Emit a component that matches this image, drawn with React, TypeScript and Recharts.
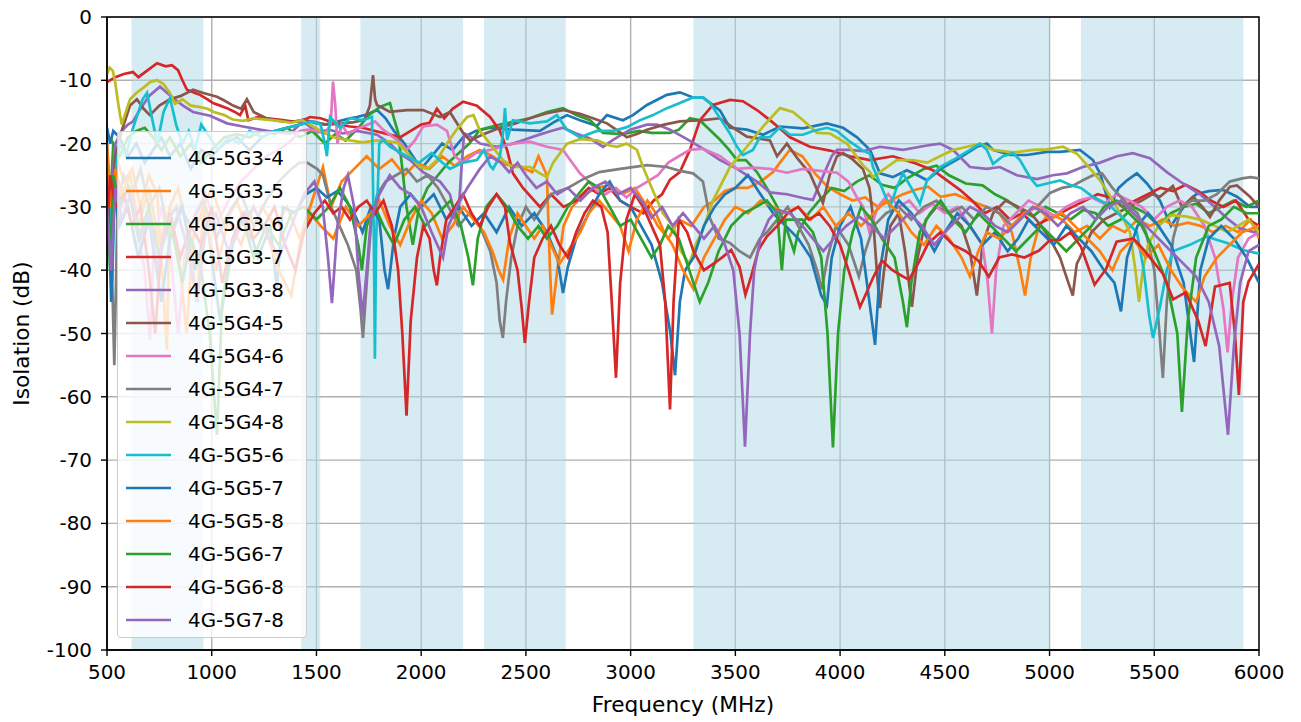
import React from 'react'
import {
  LineChart,
  Line,
  XAxis,
  YAxis,
  CartesianGrid,
  ReferenceArea,
  Legend,
  Label,
} from 'recharts'

type Pt = [number, number]

// frequency ticks / isolation ticks
const xTicks = [500, 1000, 1500, 2000, 2500, 3000, 3500, 4000, 4500, 5000, 5500, 6000]
const yTicks = [0, -10, -20, -30, -40, -50, -60, -70, -80, -90, -100]

// operating bands (MHz)
const bands: Pt[] = [
  [617, 960],
  [1427, 1518],
  [1710, 2200],
  [2300, 2690],
  [3300, 5000],
  [5150, 5925],
]

// [MHz, dB]
const g3_4: Pt[] = [
  [500, -17.5], [515, -20], [530, -18], [560, -19], [600, -22], [640, -20], [680, -23], [720, -21], [760, -19],
  [800, -22], [850, -20], [900, -24], [950, -21], [1000, -22], [1060, -20], [1120, -19], [1180, -21], [1240, -19],
  [1300, -18], [1360, -17.5], [1420, -17], [1480, -16.5], [1540, -17], [1600, -16.5], [1660, -16], [1694, -15.8],
  [1740, -15.4], [1790, -14.7], [1830, -16], [1870, -18], [1920, -20], [1960, -22], [2000, -24], [2050, -22],
  [2100, -20], [2150, -21], [2200, -19], [2260, -18], [2329, -17.5], [2438, -17.8], [2567, -18], [2640, -16.5],
  [2696, -15.5], [2758, -16.3], [2839, -17.2], [2887, -15.5], [2963, -16.3], [3011, -15.5], [3078, -13.9],
  [3173, -12.3], [3235, -11.9], [3298, -12.7], [3345, -12.7], [3427, -14.8], [3474, -17.5], [3555, -17.8],
  [3632, -18.6], [3713, -17.3], [3823, -17.6], [3937, -16.8], [4014, -17.5], [4081, -19], [4143, -21],
  [4190, -24.7], [4252, -25.3], [4319, -24.2], [4370, -25], [4415, -25.8], [4480, -24], [4560, -22.5],
  [4653, -20.5], [4701, -20], [4730, -21], [4811, -21.8], [4892, -21.8], [4988, -21.3], [5050, -21.3],
  [5145, -21], [5207, -22.6], [5241, -24.7], [5288, -30], [5330, -27], [5370, -25.8], [5417, -24.7],
  [5465, -26.3], [5527, -29], [5580, -33], [5640, -30], [5700, -28], [5760, -27.5], [5828, -27.3],
  [5895, -28.4], [5957, -30], [6000, -30],
]

const g3_5: Pt[] = [
  [500, -25], [520, -35], [545, -22], [580, -26], [620, -24], [660, -30], [700, -25], [740, -28], [786, -52.6],
  [800, -30], [840, -27], [890, -35], [930, -45], [960, -30], [1000, -27], [1060, -33], [1120, -29], [1180, -35],
  [1240, -30], [1300, -33], [1360, -30], [1420, -35], [1470, -30], [1531, -23.7], [1570, -30], [1620, -26],
  [1680, -24], [1740, -22], [1800, -24], [1860, -22.5], [1920, -25], [1980, -23], [2040, -24], [2100, -22],
  [2160, -23.5], [2220, -22], [2280, -21], [2330, -21.8], [2400, -23.3], [2470, -23.6], [2530, -24.5],
  [2560, -22], [2600, -25], [2615, -40], [2625, -47], [2650, -40], [2680, -33], [2720, -30], [2780, -28],
  [2840, -27], [2900, -26.5], [2960, -28], [3020, -27], [3080, -30], [3130, -33], [3180, -35], [3230, -32],
  [3290, -33], [3350, -30], [3400, -29], [3450, -27.5], [3500, -27], [3560, -27], [3620, -26], [3680, -24.5],
  [3713, -23], [3760, -21], [3820, -22], [3880, -24.7], [3940, -26.8], [4000, -28], [4060, -29], [4120, -28.5],
  [4180, -30], [4240, -29], [4300, -28], [4360, -27.3], [4420, -26.8], [4480, -28.4], [4550, -28], [4620, -29],
  [4700, -30], [4760, -31], [4820, -34], [4860, -40], [4883, -44], [4910, -38], [4950, -33], [5000, -31],
  [5060, -32], [5120, -34], [5180, -33], [5240, -35], [5300, -33], [5360, -34], [5420, -32], [5480, -33],
  [5540, -32], [5600, -33], [5660, -32.5], [5720, -33], [5780, -34], [5840, -33], [5900, -34], [5960, -32],
  [6000, -35],
]

const g3_6: Pt[] = [
  [500, -25], [515, -30], [530, -20], [560, -22], [600, -19], [640, -18], [680, -17.5], [720, -19], [760, -21],
  [800, -19], [850, -22], [900, -20], [950, -23], [1000, -21], [1060, -19], [1120, -18.5], [1180, -19],
  [1240, -18], [1300, -18.5], [1360, -17.5], [1420, -19], [1480, -18], [1540, -20], [1590, -18.5], [1640, -19.5],
  [1700, -17.5], [1750, -15.5], [1803, -14.2], [1851, -13.6], [1870, -16], [1890, -18.3], [1910, -24],
  [1930, -30], [1960, -36], [1990, -30], [2030, -27], [2080, -25], [2130, -23], [2180, -21.5], [2230, -20],
  [2281, -17.8], [2376, -17], [2450, -16.5], [2519, -16], [2600, -15], [2677, -14.4], [2740, -15.5],
  [2806, -16.3], [2868, -18.3], [2960, -18.5], [3040, -18], [3100, -18.3], [3188, -18.3], [3230, -17.8],
  [3283, -16], [3330, -16.3], [3427, -19.4], [3470, -21], [3508, -22.6], [3550, -22.6], [3603, -24.5],
  [3650, -27], [3700, -30], [3740, -33], [3780, -37], [3800, -34], [3850, -31], [3900, -29], [3960, -27],
  [4020, -27.5], [4080, -26], [4140, -25], [4200, -26.5], [4260, -27], [4320, -25.5], [4400, -24], [4460, -23.5],
  [4520, -25], [4600, -26.3], [4680, -26.6], [4740, -28], [4800, -29], [4860, -30.5], [4920, -31.5],
  [4980, -30], [5040, -31], [5100, -32], [5160, -30.5], [5220, -31], [5280, -33], [5340, -32], [5400, -30],
  [5460, -31], [5520, -33], [5580, -31], [5640, -30], [5700, -29.5], [5760, -31], [5820, -30], [5880, -29],
  [5940, -30], [6000, -29],
]

const g3_7: Pt[] = [
  [500, -10.3], [540, -9.5], [580, -9], [624, -8.7], [650, -9.5], [690, -8.5], [739, -7.3], [780, -7.8],
  [810, -7.6], [839, -8.4], [860, -10], [882, -11.5], [920, -12], [944, -12.3], [980, -13], [1006, -13.6],
  [1040, -14], [1073, -14.4], [1110, -15], [1135, -15.5], [1160, -14], [1175, -16.3], [1220, -15.8],
  [1264, -16], [1320, -16.2], [1380, -16.5], [1421, -16.5], [1470, -15.8], [1520, -16], [1565, -16.5],
  [1610, -17], [1660, -17.3], [1720, -17.5], [1780, -18], [1840, -18.5], [1900, -19], [1950, -18], [2000, -17],
  [2040, -16.7], [2075, -14.5], [2110, -16], [2150, -14.5], [2200, -13.4], [2266, -14], [2329, -15.8],
  [2376, -18], [2410, -21], [2438, -24.7], [2486, -27], [2567, -30], [2620, -28], [2680, -30], [2740, -29],
  [2800, -27], [2850, -28], [2900, -27], [2950, -29], [3000, -30], [3060, -31], [3110, -29], [3150, -28],
  [3188, -25.7], [3235, -24.5], [3283, -21], [3331, -16.3], [3393, -13.9], [3474, -13.1], [3536, -13.3],
  [3603, -14.7], [3665, -16.3], [3713, -17.6], [3761, -19], [3856, -20.5], [3952, -21.1], [4047, -22],
  [4143, -22.6], [4252, -22], [4350, -23], [4443, -24.2], [4510, -25.8], [4572, -27.3], [4630, -29],
  [4690, -31], [4750, -30], [4810, -32], [4870, -31], [4930, -33], [4990, -32], [5050, -31], [5110, -30],
  [5170, -29], [5230, -28], [5290, -28.5], [5350, -30], [5410, -29], [5470, -28], [5530, -27], [5590, -27.5],
  [5650, -26.5], [5710, -27.5], [5770, -29], [5830, -30], [5890, -29], [5950, -32], [6000, -33],
]

const g3_8: Pt[] = [
  [500, -22], [520, -28], [540, -20], [570, -18], [600, -17], [624, -16.5], [658, -14.6], [700, -12.5],
  [753, -11], [815, -12.8], [863, -14], [911, -15], [992, -15.6], [1073, -16.8], [1149, -17.3], [1264, -18],
  [1374, -18.4], [1436, -16.5], [1503, -18.2], [1560, -17.8], [1627, -18.4], [1694, -18], [1789, -18.6],
  [1851, -20], [1899, -21.6], [1947, -22.6], [2009, -24.5], [2090, -26], [2137, -28], [2160, -31], [2175, -33],
  [2190, -25], [2205, -18.4], [2240, -19], [2281, -20], [2360, -20.5], [2438, -20], [2500, -19.3],
  [2553, -18.7], [2620, -18], [2677, -17.5], [2740, -18.4], [2806, -19.2], [2868, -20.5], [2916, -19.4],
  [2997, -17.8], [3078, -17], [3126, -17], [3188, -17.8], [3269, -19.3], [3345, -20.8], [3427, -22.6],
  [3508, -24], [3603, -26], [3665, -27.7], [3746, -28], [3823, -28.6], [3870, -28.9], [3920, -25], [3960, -22],
  [3985, -21], [4047, -21], [4109, -21.2], [4190, -20.5], [4300, -21], [4415, -20.3], [4477, -20], [4539, -21],
  [4620, -23.7], [4701, -24], [4763, -23.7], [4844, -25], [4940, -25.6], [5016, -25], [5083, -24.7],
  [5159, -23.7], [5241, -23], [5322, -22], [5398, -21.5], [5479, -22.3], [5560, -24.5], [5637, -26.3],
  [5718, -28], [5799, -30.3], [5847, -31.8], [5909, -33.4], [6000, -34.2],
]

const g4_5: Pt[] = [
  [500, -25], [520, -32], [540, -22], [570, -18], [610, -14], [643, -13], [675, -14.5], [705, -15.5], [750, -14],
  [800, -13], [850, -12.5], [911, -11.5], [960, -12], [1025, -12.6], [1060, -13.2], [1102, -14], [1140, -14.5],
  [1168, -13], [1200, -15], [1260, -16], [1320, -16.4], [1380, -16.6], [1440, -16.2], [1500, -16.8], [1560, -17],
  [1620, -16.8], [1680, -16.6], [1730, -16.2], [1755, -14], [1770, -9.2], [1780, -13], [1789, -13.9],
  [1851, -15], [1932, -14.7], [2009, -14.7], [2090, -15.8], [2137, -15], [2200, -18.3], [2233, -19.5],
  [2300, -18.5], [2376, -17.5], [2450, -16.8], [2519, -16], [2600, -15.2], [2677, -14.7], [2758, -15.3],
  [2820, -16], [2887, -16.8], [2940, -18], [2982, -19], [3030, -18.5], [3078, -17.8], [3160, -17], [3235, -16.5],
  [3345, -16.3], [3427, -16], [3490, -17.5], [3555, -18.9], [3665, -19.5], [3699, -22], [3746, -20],
  [3800, -22.5], [3856, -24.7], [3918, -29.4], [3950, -25], [3985, -22], [4014, -21.5], [4060, -22.5],
  [4109, -24], [4140, -27], [4157, -31.6], [4175, -40], [4190, -46], [4210, -40], [4240, -33], [4280, -31],
  [4310, -37], [4343, -45.8], [4370, -38], [4410, -32], [4460, -30], [4520, -31], [4580, -33], [4620, -37],
  [4653, -44], [4680, -36], [4730, -31], [4790, -29], [4850, -30], [4910, -31], [4960, -33], [5002, -35],
  [5050, -38], [5090, -42], [5111, -44], [5130, -39], [5145, -38], [5200, -34], [5260, -32], [5320, -31],
  [5380, -30], [5440, -29], [5490, -28], [5527, -28.4], [5589, -26.7], [5632, -30], [5685, -28.4],
  [5730, -30], [5766, -31.6], [5810, -29], [5861, -26.8], [5895, -26.6], [5957, -28.4], [6000, -30],
]

const g4_6: Pt[] = [
  [500, -28], [520, -38], [540, -25], [570, -30], [600, -27], [640, -33], [680, -40], [705, -51], [725, -35],
  [760, -30], [800, -36], [840, -50], [870, -38], [920, -31], [970, -28], [1020, -33], [1080, -29], [1140, -26],
  [1200, -24], [1260, -22], [1320, -21], [1380, -19.5], [1420, -18], [1460, -17.8], [1500, -18], [1540, -18.4],
  [1568, -17], [1579, -10.2], [1590, -14], [1600, -20], [1620, -17], [1650, -18.5], [1690, -17.7],
  [1730, -17.2], [1760, -16.8], [1780, -16.5], [1818, -17.8], [1884, -19.4], [1930, -21], [1970, -19.5],
  [2009, -17.3], [2075, -17], [2123, -18], [2160, -22], [2200, -23], [2260, -21.5], [2329, -21], [2438, -20],
  [2519, -19.7], [2600, -20.5], [2677, -21], [2720, -23], [2758, -24.7], [2800, -26], [2840, -27.5],
  [2880, -28], [2930, -27], [2980, -28.5], [3030, -27], [3080, -26], [3130, -25], [3180, -23], [3230, -22],
  [3283, -21], [3345, -20.8], [3427, -22], [3508, -24], [3584, -23.8], [3665, -24], [3746, -24.6], [3823, -24],
  [3904, -24.3], [3985, -24.6], [4040, -26], [4080, -28.5], [4110, -30], [4140, -34], [4180, -30], [4230, -28],
  [4280, -30], [4330, -29], [4380, -31], [4440, -29.5], [4500, -31], [4560, -30], [4620, -33], [4680, -36],
  [4705, -42], [4725, -50], [4745, -40], [4780, -33], [4840, -31], [4900, -29], [4960, -30], [5020, -31.5],
  [5080, -30], [5140, -29], [5200, -28.5], [5260, -29.5], [5320, -28], [5380, -29], [5440, -30], [5500, -32],
  [5560, -30], [5620, -29], [5680, -30], [5740, -33], [5790, -38], [5830, -46], [5850, -53], [5870, -45],
  [5900, -38], [5950, -35], [6000, -34],
]

const g4_7: Pt[] = [
  [500, -22], [520, -35], [535, -55], [550, -30], [580, -25], [620, -28], [660, -24], [700, -30], [750, -27],
  [800, -35], [850, -30], [900, -33], [960, -29], [1020, -35], [1080, -31], [1140, -28], [1200, -33],
  [1260, -29], [1320, -26], [1380, -24], [1420, -23], [1455, -23], [1503, -24], [1531, -25], [1570, -30],
  [1610, -33], [1650, -36], [1690, -40], [1710, -46], [1722, -50.7], [1740, -42], [1760, -33], [1790, -28],
  [1830, -26], [1880, -25], [1930, -24], [1980, -26], [2030, -25], [2080, -27], [2130, -30], [2180, -33],
  [2230, -31], [2280, -33], [2330, -37], [2360, -42], [2375, -48], [2390, -50.7], [2405, -45], [2430, -38],
  [2460, -33], [2500, -30], [2540, -32], [2580, -30], [2620, -28], [2660, -27.5], [2700, -27], [2780, -25.5],
  [2850, -24.5], [2950, -24], [3078, -23.4], [3173, -23.7], [3235, -24.3], [3298, -24.7], [3345, -26],
  [3379, -31.8], [3420, -35], [3474, -35.7], [3520, -37], [3570, -38], [3617, -35], [3651, -34], [3700, -32],
  [3750, -30], [3800, -33], [3850, -36], [3890, -40], [3913, -43], [3940, -38], [3980, -33], [4040, -36],
  [4090, -41], [4120, -37], [4160, -33], [4220, -31], [4280, -30], [4340, -32], [4400, -30], [4460, -29],
  [4520, -31], [4580, -30], [4640, -32], [4700, -30], [4760, -31], [4820, -33], [4880, -31], [4940, -30],
  [5002, -27.8], [5060, -27], [5110, -26.7], [5159, -25.8], [5207, -25], [5250, -24.7], [5300, -27],
  [5370, -29.5], [5420, -31], [5460, -34], [5500, -40], [5525, -50], [5541, -57], [5560, -45], [5590, -35],
  [5630, -30], [5680, -29], [5740, -29], [5799, -28], [5860, -26], [5920, -25.5], [5960, -25.3], [6000, -25.5],
]

const g4_8: Pt[] = [
  [500, -9], [513, -8], [528, -8.5], [540, -10.5], [555, -14], [570, -17], [590, -15], [610, -13], [640, -12],
  [680, -11], [710, -10.2], [740, -10], [770, -10.6], [800, -12], [825, -13.7], [860, -13], [900, -14],
  [940, -14.2], [980, -14.5], [1010, -15], [1060, -15.5], [1100, -16.2], [1150, -16.4], [1200, -16],
  [1260, -16.2], [1320, -16.4], [1380, -16.7], [1430, -16.3], [1470, -17], [1520, -18], [1580, -19],
  [1660, -19.5], [1720, -19.8], [1789, -19.5], [1884, -19.8], [1940, -21.7], [1994, -23.7], [2030, -24],
  [2075, -22.6], [2123, -20], [2171, -17.7], [2219, -15.8], [2250, -15.5], [2281, -18], [2329, -20],
  [2390, -22.6], [2438, -23.7], [2520, -23.7], [2567, -24.7], [2600, -25.3], [2630, -23], [2696, -20],
  [2758, -19.3], [2840, -19.5], [2900, -20.3], [2935, -20.5], [2980, -20], [3030, -21], [3059, -23.7],
  [3107, -27.5], [3154, -31], [3202, -33], [3240, -37], [3280, -39], [3310, -36], [3345, -33.6], [3393, -29],
  [3474, -23.7], [3555, -20.5], [3632, -17.3], [3713, -14.4], [3775, -15], [3823, -16.3], [3890, -18.3],
  [3952, -18.4], [4033, -20], [4109, -23.4], [4143, -24.5], [4157, -25.3], [4224, -23.7], [4271, -22.6],
  [4348, -22.6], [4415, -23], [4477, -22], [4539, -21], [4606, -20.5], [4668, -20], [4730, -21], [4825, -21.4],
  [4921, -21], [4988, -20.9], [5064, -20.5], [5131, -21.6], [5179, -23.4], [5241, -25.8], [5303, -29],
  [5350, -31.8], [5384, -34], [5410, -40], [5427, -45], [5445, -40], [5470, -36], [5520, -33], [5580, -31.3],
  [5650, -31.5], [5720, -32], [5790, -33], [5850, -34], [5900, -33], [5950, -32], [6000, -34],
]

const g5_6: Pt[] = [
  [500, -20], [512, -30], [525, -42], [538, -25], [560, -20], [590, -22], [620, -18], [650, -15], [670, -13],
  [691, -12], [715, -16], [740, -20], [770, -15], [801, -12.8], [830, -17], [860, -20], [890, -18], [920, -21],
  [950, -17], [990, -19], [1030, -21], [1080, -19], [1130, -20], [1180, -18], [1240, -19], [1300, -18],
  [1360, -17.5], [1420, -17], [1480, -16.5], [1520, -17], [1540, -20], [1550, -22], [1565, -15.8],
  [1612, -17.5], [1660, -16], [1722, -16.3], [1765, -15.8], [1774, -35], [1779, -54], [1785, -35], [1800, -20],
  [1818, -19.4], [1851, -20.5], [1932, -22], [1990, -23], [2050, -21.5], [2100, -23], [2137, -24], [2200, -23],
  [2266, -22.6], [2300, -21], [2329, -23.5], [2343, -24], [2376, -22], [2392, -18], [2400, -14.4], [2410, -19.4],
  [2438, -16.3], [2519, -16.8], [2600, -16.5], [2648, -15.5], [2696, -17.8], [2758, -19], [2839, -18],
  [2916, -18], [2982, -17.4], [3045, -16.3], [3107, -15.5], [3173, -14.4], [3235, -13.6], [3298, -12.7],
  [3345, -12.7], [3379, -13.6], [3427, -16], [3474, -18.4], [3508, -20.5], [3536, -21.8], [3584, -21],
  [3617, -19], [3665, -19], [3713, -17.4], [3761, -18.6], [3823, -18.6], [3871, -18], [3937, -17.5],
  [3985, -18], [4047, -19.7], [4109, -21.1], [4143, -21.6], [4157, -23.7], [4200, -27], [4238, -30],
  [4270, -27], [4300, -24.7], [4340, -27], [4381, -29.5], [4415, -25.8], [4477, -23.7], [4539, -22.6],
  [4620, -21], [4668, -20], [4701, -21], [4730, -23.2], [4778, -22], [4825, -21.5], [4859, -22.6],
  [4906, -25.3], [4940, -26.7], [4988, -26.3], [5050, -25.8], [5097, -26.5], [5150, -27], [5207, -28.4],
  [5288, -29.8], [5370, -32.4], [5417, -34], [5450, -40], [5475, -47], [5494, -50.7], [5527, -45.8],
  [5560, -40], [5589, -37], [5670, -36], [5751, -34.7], [5847, -35.7], [5923, -36.8], [6000, -37.4],
]

const g5_7: Pt[] = [
  [500, -22], [520, -45], [535, -28], [560, -33], [600, -30], [650, -38], [700, -32], [760, -45], [800, -35],
  [860, -30], [920, -40], [980, -33], [1040, -48], [1100, -36], [1160, -31], [1220, -38], [1280, -33],
  [1311, -43], [1340, -30], [1400, -31], [1450, -28], [1500, -27], [1550, -28.5], [1600, -27.5], [1640, -29],
  [1680, -31], [1720, -34], [1760, -30], [1800, -32], [1825, -40], [1842, -43], [1870, -35], [1900, -30],
  [1950, -28], [2000, -30], [2060, -28], [2120, -32], [2180, -30], [2240, -33], [2300, -31], [2360, -34],
  [2420, -30], [2480, -33], [2540, -31], [2600, -34], [2650, -38], [2677, -43.6], [2700, -39.5], [2740, -35],
  [2800, -31], [2850, -28], [2900, -26], [2950, -29], [3000, -30], [3050, -33], [3100, -36], [3150, -42],
  [3190, -50], [3212, -56.6], [3235, -45], [3260, -40], [3300, -38], [3350, -33], [3400, -30], [3450, -28],
  [3500, -27], [3560, -25], [3620, -28], [3680, -31], [3740, -33], [3800, -35], [3860, -38], [3910, -44],
  [3937, -45.5], [3960, -38], [4000, -33], [4050, -30], [4100, -35], [4140, -45], [4167, -51.8], [4190, -40],
  [4230, -32], [4280, -29], [4340, -31], [4400, -34], [4450, -37], [4500, -34], [4560, -31], [4620, -33],
  [4680, -36], [4740, -34], [4800, -37], [4850, -35], [4900, -32], [4960, -34], [5020, -36], [5080, -33],
  [5140, -35], [5200, -37], [5260, -40], [5310, -42], [5341, -46.5], [5370, -38], [5420, -33], [5470, -31],
  [5520, -33], [5580, -36], [5640, -42], [5690, -54.5], [5720, -40], [5760, -35], [5820, -33], [5880, -35],
  [5940, -38], [6000, -42],
]

const g5_8: Pt[] = [
  [500, -20], [520, -30], [540, -24], [570, -28], [610, -25], [650, -33], [700, -27], [750, -36], [800, -30],
  [850, -40], [880, -50], [910, -35], [960, -30], [1020, -40], [1080, -32], [1140, -36], [1200, -30],
  [1260, -34], [1320, -40], [1380, -44], [1420, -36], [1470, -31], [1520, -33], [1580, -35], [1640, -30],
  [1700, -33], [1760, -31], [1800, -29], [1850, -33], [1900, -36], [1950, -32], [2000, -29], [2050, -31],
  [2100, -35], [2150, -33], [2200, -30], [2250, -32], [2300, -34], [2340, -37], [2370, -40], [2391, -41.5],
  [2420, -35], [2460, -31], [2500, -33], [2540, -35], [2580, -33], [2620, -36], [2660, -39], [2700, -37],
  [2760, -34], [2800, -31], [2850, -29], [2900, -31], [2950, -33], [2990, -37], [3030, -32], [3080, -29],
  [3120, -31], [3160, -34], [3200, -36], [3250, -40], [3300, -43], [3350, -38], [3400, -35], [3450, -32],
  [3500, -30], [3560, -31], [3620, -29], [3680, -30], [3740, -31], [3800, -30], [3860, -32], [3920, -30],
  [3980, -33], [4040, -31], [4100, -33], [4160, -31], [4220, -29], [4280, -31], [4340, -34], [4400, -36],
  [4460, -33], [4520, -35], [4580, -38], [4620, -41], [4660, -37], [4700, -34], [4760, -35], [4820, -33],
  [4880, -31], [4940, -30], [5000, -32], [5060, -31], [5120, -33], [5180, -35], [5240, -37], [5300, -40],
  [5340, -37], [5400, -35], [5460, -38], [5520, -36], [5580, -40], [5640, -43], [5700, -45], [5740, -41],
  [5800, -38], [5860, -36], [5920, -34], [6000, -33],
]

const g6_7: Pt[] = [
  [500, -28], [515, -40], [530, -25], [560, -30], [600, -27], [650, -35], [700, -30], [750, -38], [800, -32],
  [860, -42], [900, -35], [950, -40], [990, -50], [1025, -66], [1050, -45], [1100, -35], [1150, -32],
  [1200, -38], [1260, -33], [1320, -36], [1380, -31], [1440, -30], [1500, -32], [1560, -30], [1612, -27],
  [1660, -30], [1700, -36], [1717, -40], [1740, -33], [1780, -30], [1820, -33], [1870, -36], [1920, -32],
  [1970, -30], [2020, -33], [2080, -31], [2140, -29], [2190, -33], [2225, -38], [2247, -42.4], [2270, -35],
  [2310, -30], [2360, -28], [2410, -30], [2460, -33], [2510, -35], [2560, -33], [2600, -35], [2650, -33],
  [2700, -30], [2750, -28], [2800, -26], [2850, -27], [2900, -30], [2950, -33], [3000, -32], [3050, -35],
  [3100, -38], [3140, -36], [3180, -33], [3230, -35], [3280, -40], [3330, -45], [3370, -42], [3420, -37],
  [3480, -33], [3540, -31], [3600, -30], [3650, -29], [3700, -31], [3722, -40], [3740, -32], [3820, -32],
  [3870, -34], [3910, -38], [3940, -50], [3966, -68], [3990, -50], [4020, -40], [4060, -34], [4100, -30],
  [4150, -32], [4200, -35], [4260, -38], [4300, -45], [4319, -49], [4340, -42], [4380, -34], [4430, -31],
  [4480, -29], [4540, -32], [4600, -34], [4660, -31], [4720, -33], [4780, -35], [4840, -37], [4900, -35],
  [4960, -33], [5020, -35], [5080, -37], [5140, -35], [5200, -33], [5260, -30], [5320, -29], [5380, -31],
  [5440, -33], [5500, -37], [5560, -42], [5610, -50], [5632, -62.4], [5660, -48], [5700, -38], [5760, -33],
  [5820, -32], [5880, -30], [5940, -31], [6000, -31],
]

const g6_8: Pt[] = [
  [500, -35], [515, -25], [540, -30], [580, -28], [620, -33], [660, -30], [700, -40], [730, -50], [760, -36],
  [800, -31], [850, -38], [900, -33], [950, -36], [1000, -30], [1050, -42], [1100, -35], [1150, -31],
  [1200, -35], [1250, -33], [1300, -30], [1350, -36], [1400, -40], [1440, -34], [1490, -31], [1540, -29],
  [1580, -31], [1620, -30], [1660, -32], [1700, -30], [1740, -29], [1780, -31], [1820, -29], [1860, -33],
  [1890, -40], [1910, -50], [1930, -63], [1950, -48], [1980, -38], [2010, -33], [2040, -35], [2060, -40],
  [2075, -42.4], [2090, -38], [2120, -32], [2160, -30], [2200, -28], [2240, -31], [2280, -33], [2320, -30],
  [2360, -28], [2400, -30], [2424, -35.7], [2460, -40], [2480, -46], [2495, -51.5], [2515, -45], [2540, -38],
  [2580, -35], [2620, -33], [2660, -36], [2700, -38], [2740, -34], [2780, -31], [2820, -29], [2860, -30],
  [2890, -34], [2910, -45], [2930, -57], [2950, -42], [2980, -32], [3020, -28], [3060, -30], [3100, -33],
  [3140, -36], [3165, -45], [3188, -62], [3205, -45], [3230, -32], [3270, -34], [3300, -37], [3350, -40],
  [3400, -38.9], [3440, -37.9], [3480, -36.8], [3520, -39.5], [3548, -43.9], [3575, -41], [3610, -36.8],
  [3650, -34.7], [3700, -33], [3750, -31], [3800, -30], [3850, -32], [3900, -31], [3950, -33], [4000, -36],
  [4040, -40], [4095, -45.8], [4120, -44], [4160, -41], [4200, -38.5], [4250, -40], [4300, -41], [4330, -41.5],
  [4380, -38.5], [4420, -35.8], [4480, -34], [4540, -36], [4600, -37], [4660, -38.5], [4710, -41], [4760, -38],
  [4820, -37.5], [4880, -38], [4950, -36.9], [5000, -35.3], [5050, -35.2], [5100, -34], [5150, -36.3],
  [5215, -42.3], [5270, -39.8], [5320, -35.5], [5400, -35], [5450, -36.8], [5540, -40.5], [5590, -44.6],
  [5650, -43.5], [5710, -48], [5745, -52], [5790, -42.6], [5860, -42], [5885, -50], [5904, -59.7], [5925, -45],
  [5950, -41.8], [6000, -39],
]

const g7_8: Pt[] = [
  [500, -30], [520, -40], [540, -27], [570, -32], [610, -28], [660, -35], [700, -31], [740, -40], [780, -33],
  [830, -30], [880, -36], [930, -45], [970, -34], [1020, -31], [1080, -37], [1140, -33], [1200, -30],
  [1260, -34], [1320, -38], [1380, -33], [1440, -28], [1490, -26], [1530, -30], [1555, -38], [1574, -45.2],
  [1600, -33], [1630, -27], [1650, -25], [1680, -30], [1700, -40], [1720, -47.4], [1740, -40], [1760, -32],
  [1800, -28], [1850, -25], [1900, -27], [1950, -28], [2000, -30], [2050, -34], [2104, -38], [2130, -33],
  [2170, -30], [2220, -27], [2280, -24], [2330, -22], [2380, -23], [2420, -24.5], [2460, -23], [2500, -25],
  [2550, -27], [2600, -26], [2650, -28], [2700, -27], [2760, -29], [2820, -27], [2880, -26], [2940, -28],
  [3000, -27], [3060, -29.4], [3100, -31.7], [3150, -30], [3200, -33], [3250, -31], [3300, -33], [3350, -35],
  [3400, -33], [3450, -36], [3490, -40], [3520, -50], [3546, -67.9], [3570, -50], [3590, -40], [3620, -35],
  [3660, -32], [3700, -30.5], [3760, -31], [3820, -33], [3870, -35], [3920, -37], [3970, -35], [4030, -33],
  [4090, -31.5], [4150, -33], [4210, -35], [4270, -33], [4330, -31], [4390, -33], [4450, -36], [4500, -34],
  [4560, -32], [4620, -30], [4680, -31], [4740, -33], [4800, -34], [4860, -32], [4920, -30], [4980, -31],
  [5040, -33], [5100, -31], [5160, -30], [5220, -32], [5280, -30], [5340, -29], [5400, -31], [5460, -33],
  [5520, -35], [5580, -37], [5640, -39], [5700, -41], [5760, -45], [5810, -52], [5852, -66], [5880, -52],
  [5910, -42], [5950, -37], [6000, -36],
]

const series = [
  { name: '4G-5G3-4', color: '#1f77b4', pts: g3_4 },
  { name: '4G-5G3-5', color: '#ff7f0e', pts: g3_5 },
  { name: '4G-5G3-6', color: '#2ca02c', pts: g3_6 },
  { name: '4G-5G3-7', color: '#d62728', pts: g3_7 },
  { name: '4G-5G3-8', color: '#9467bd', pts: g3_8 },
  { name: '4G-5G4-5', color: '#8c564b', pts: g4_5 },
  { name: '4G-5G4-6', color: '#e377c2', pts: g4_6 },
  { name: '4G-5G4-7', color: '#7f7f7f', pts: g4_7 },
  { name: '4G-5G4-8', color: '#bcbd22', pts: g4_8 },
  { name: '4G-5G5-6', color: '#17becf', pts: g5_6 },
  { name: '4G-5G5-7', color: '#1f77b4', pts: g5_7 },
  { name: '4G-5G5-8', color: '#ff7f0e', pts: g5_8 },
  { name: '4G-5G6-7', color: '#2ca02c', pts: g6_7 },
  { name: '4G-5G6-8', color: '#d62728', pts: g6_8 },
  { name: '4G-5G7-8', color: '#9467bd', pts: g7_8 },
]

const FONT = '"DejaVu Sans", sans-serif'
const tickStyle = { fill: '#000', fontSize: 19.9, fontFamily: FONT }

const renderLegend = () => (
  <div
    style={{
      width: 190,
      height: 507,
      boxSizing: 'border-box',
      background: 'rgba(255,255,255,0.8)',
      border: '1px solid #cccccc',
      borderRadius: 4,
      position: 'relative',
      fontFamily: FONT,
      fontSize: 19.9,
      color: '#000',
    }}
  >
    {series.map((s, i) => (
      <div
        key={s.name}
        style={{ position: 'absolute', left: 0, top: 26 + i * 33 - 12, height: 24, display: 'flex', alignItems: 'center' }}
      >
        <svg width={70} height={24}>
          <line x1={8} x2={53} y1={12} y2={12} stroke={s.color} strokeWidth={2.7} />
        </svg>
        <span style={{ whiteSpace: 'nowrap' }}>{s.name}</span>
      </div>
    ))}
  </div>
)

export default function App() {
  return (
    <div style={{ position: 'absolute', left: 0, top: 0, width: 1301, height: 722, background: '#fff' }}>
      <LineChart width={1301} height={722} margin={{ top: 17, right: 42, bottom: 0, left: 0 }}>
        {bands.map(([a, b]) => (
          <ReferenceArea key={a} x1={a} x2={b} y1={-100} y2={0} fill="#add8e6" fillOpacity={0.5} stroke="none" />
        ))}
        <CartesianGrid stroke="#b0b0b0" strokeWidth={1.4} />
        <XAxis
          dataKey="f"
          type="number"
          domain={[500, 6000]}
          ticks={xTicks}
          allowDataOverflow
          height={72}
          stroke="#000"
          strokeWidth={1.4}
          tickSize={6}
          tickMargin={9}
          tick={tickStyle}
        >
          <Label value="Frequency (MHz)" position="insideBottom" offset={10} style={{ fontSize: 21.7, fontFamily: FONT, fill: '#000' }} />
        </XAxis>
        <YAxis
          type="number"
          domain={[-100, 0]}
          ticks={yTicks}
          allowDataOverflow
          width={107}
          stroke="#000"
          strokeWidth={1.4}
          tickSize={6}
          tickMargin={9}
          tick={tickStyle}
        >
          <Label
            value="Isolation (dB)"
            angle={-90}
            position="insideLeft"
            offset={21}
            style={{ fontSize: 21.7, fontFamily: FONT, fill: '#000', textAnchor: 'middle' }}
          />
        </YAxis>
        {series.map((s) => (
          <Line
            key={s.name}
            data={s.pts.map(([f, v]) => ({ f, v }))}
            dataKey="v"
            name={s.name}
            stroke={s.color}
            strokeWidth={2.7}
            dot={false}
            activeDot={false}
            isAnimationActive={false}
          />
        ))}
        <ReferenceArea x1={500} x2={6000} y1={-100} y2={0} fill="none" stroke="#000" strokeWidth={1.4} />
        <Legend
          layout="vertical"
          align="center"
          verticalAlign="middle"
          content={renderLegend}
          wrapperStyle={{ left: 117, top: 131, width: 190 }}
        />
      </LineChart>
    </div>
  )
}
